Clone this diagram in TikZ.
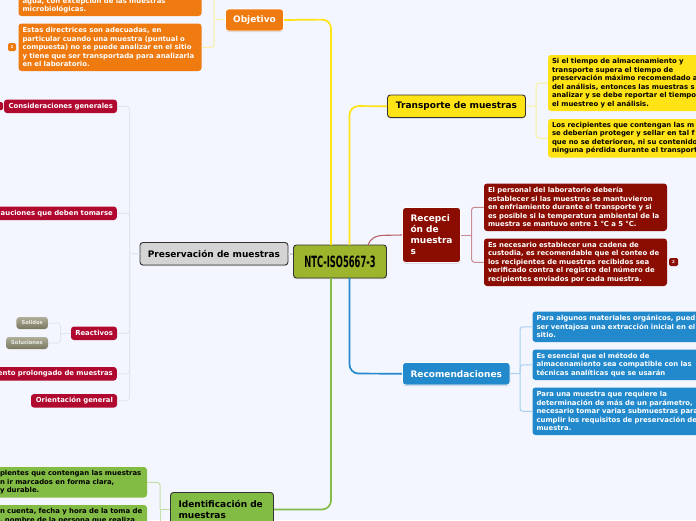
\documentclass[tikz,border=0pt]{standalone}
\usepackage{fontspec}
\setmainfont{DejaVu Sans}
\newfontfamily\condfont{DejaVu Sans Condensed}
\usetikzlibrary{shadows}
\definecolor{bgc}{HTML}{F3F6FF}
\definecolor{orangec}{HTML}{EF7A10}
\definecolor{yellowc}{HTML}{FFE314}
\definecolor{redc}{HTML}{8B0D02}
\definecolor{bluec}{HTML}{2289CC}
\definecolor{greenc}{HTML}{82BC44}
\definecolor{crimsonc}{HTML}{B0082F}
\definecolor{grayc}{HTML}{D4D4D4}
\definecolor{olivec}{HTML}{9DB52D}
\definecolor{taupec}{HTML}{8E8C6E}
\definecolor{ylight}{HTML}{FBF0A0}
\definecolor{rlight}{HTML}{C98A90}
\definecolor{blight}{HTML}{A8D0EE}
\definecolor{glight}{HTML}{C2DFA6}
\definecolor{clight}{HTML}{E1E5EF}
\tikzset{
  x=1pt,y=-1pt,
  mbox/.style={rounded corners=3pt,inner ysep=0pt,inner xsep=4pt,font=\bfseries\fontsize{6.9}{8.5}\selectfont,align=left,anchor=center},
  mainbox/.style={rounded corners=3pt,inner ysep=0pt,inner xsep=0pt,font=\bfseries\fontsize{9}{11}\selectfont,align=left,anchor=center},
  darkedge/.style={draw=black!80,line width=.9pt,drop shadow={shadow xshift=0pt,shadow yshift=-1pt,opacity=.3}},
  lightedge/.style={draw=white,line width=.8pt,drop shadow={shadow xshift=0pt,shadow yshift=-1pt,opacity=.3}},
  crimsonbox/.style={mbox,fill=crimsonc,text=white,minimum height=13.5pt,align=right},
  smallbox/.style={mbox,inner xsep=0pt,font=\bfseries\fontsize{5.2}{6}\selectfont,top color=taupec!70!white,bottom color=taupec!85!black,text=white!85!taupec,minimum height=12pt,align=center},
  branch/.style={line width=1.7pt,rounded corners=9pt},
  twig/.style={line width=1pt,rounded corners=3pt},
  badge/.style={rounded corners=1.5pt,inner sep=0pt,minimum width=9pt,minimum height=8pt,font=\bfseries\fontsize{4}{4}\selectfont,text=white},
}
% name, x1, y1, x2, y2, options, text
\newcommand{\mbx}[7]{%
  \pgfmathsetmacro{\bw}{#4-(#2)}\pgfmathsetmacro{\bh}{#5-(#3)}%
  \pgfmathsetmacro{\bx}{(#2+#4)/2}\pgfmathsetmacro{\by}{(#3+#5)/2}%
  \node[#6,minimum width=\bw pt,minimum height=\bh pt] (#1) at (\bx,\by) {#7};}
\newcommand{\tbox}[7]{%
  \pgfmathsetmacro{\bw}{#4-(#2)}\pgfmathsetmacro{\bh}{#5-(#3)}%
  \pgfmathsetmacro{\bx}{(#2+#4)/2}\pgfmathsetmacro{\by}{(#3+#5)/2}%
  \pgfmathsetmacro{\tw}{\bw-8}%
  \node[#6,text width=\tw pt,minimum height=\bh pt] (#1) at (\bx,\by) {#7};}
\newcommand{\mtbox}[7]{%
  \pgfmathsetmacro{\bw}{#4-(#2)}\pgfmathsetmacro{\bh}{#5-(#3)}%
  \pgfmathsetmacro{\bx}{(#2+#4)/2}\pgfmathsetmacro{\by}{(#3+#5)/2}%
  \pgfmathsetmacro{\tw}{\bw-16}%
  \node[#6,inner xsep=8pt,text width=\tw pt,minimum height=\bh pt] (#1) at (\bx,\by) {#7};}
\begin{document}
\begin{tikzpicture}
\useasboundingbox (0,0) rectangle (696,520);
\clip (0,0) rectangle (696,520);
\fill[bgc] (0,0) rectangle (696,520);

% nodes
\mbx{root}{293.5}{245}{386.5}{278}{rounded corners=3pt,fill=olivec,darkedge,inner sep=0pt}{\condfont\bfseries\fontsize{15.5}{15.5}\selectfont\scalebox{.6}[1]{NTC-ISO5667-3}}

\mbx{obj}{225.5}{9}{283.5}{31}{mainbox,fill=orangec,lightedge,text=white}{Objetivo}
\tbox{oa}{18.5}{-5}{201.5}{16}{mbox,fill=orangec,text=white}{agua, con excepción de las muestras\\microbiológicas.}
\tbox{ob}{18.5}{23.5}{201.5}{71}{mbox,fill=orangec,text=white}{Estas directrices son adecuadas, en\\particular cuando una muestra (puntual o\\compuesta) no se puede analizar en el sitio\\y tiene que ser transportada para analizarla\\en el laboratorio.}
\node[badge,fill=orangec,minimum width=8pt] (obm) at (12,47) {1};

\mbx{tr}{387.5}{95}{525.5}{117.5}{mainbox,fill=yellowc,darkedge}{Transporte de muestras}
\tbox{ta}{548}{55}{720}{111}{mbox,fill=yellowc}{Si el tiempo de almacenamiento y\\transporte supera el tiempo de\\preservación máximo recomendado a\\del análisis, entonces las muestras s\\analizar y se debe reportar el tiempo\\el muestreo y el análisis.}
\tbox{tb}{548}{119}{720}{157.5}{mbox,fill=yellowc}{Los recipientes que contengan las m\\se deberían proteger y sellar en tal f\\que no se deterioren, ni su contenido\\ninguna pérdida durante el transport}

\mtbox{re}{402.5}{207.5}{460.5}{262.5}{mainbox,fill=redc,lightedge,text=white}{Recepci\\ón de\\muestra\\s}
\tbox{ra}{484}{183.5}{667}{231}{mbox,fill=redc,text=white}{El personal del laboratorio debería\\establecer si las muestras se mantuvieron\\en enfriamiento durante el transporte y si\\es posible si la temperatura ambiental de la\\muestra se mantuvo entre 1 °C a 5 °C.}
\tbox{rb}{484}{238.5}{667}{286}{mbox,fill=redc,text=white}{Es necesario establecer una cadena de\\custodia, es recomendable que el conteo de\\los recipientes de muestras recibidos sea\\verificado contra el registro del número de\\recipientes enviados por cada muestra.}
\node[badge,fill=redc] (rbm) at (673.5,262) {2};

\mbx{rc}{402.5}{362.5}{510}{385}{mainbox,fill=bluec,lightedge,text=white}{Recomendaciones}
\tbox{ca}{532.5}{311.5}{720}{342}{mbox,fill=bluec,text=white}{Para algunos materiales orgánicos, pued\\ser ventajosa una extracción inicial en el\\sitio.}
\tbox{cb}{532.5}{349.5}{720}{380}{mbox,fill=bluec,text=white}{Es esencial que el método de\\almacenamiento sea compatible con las\\técnicas analíticas que se usarán}
\tbox{cc}{532.5}{387.5}{720}{435}{mbox,fill=bluec,text=white}{Para una muestra que requiere la\\determinación de más de un parámetro,\\necesario tomar varias submuestras para\\cumplir los requisitos de preservación de\\muestra.}

\mtbox{id}{170.5}{492.5}{273.5}{526.5}{mainbox,fill=greenc,darkedge}{Identificación de\\muestras}
\tbox{ia}{-4}{467}{147}{497.5}{mbox,fill=greenc}{plentes que contengan las muestras\\n ir marcados en forma clara,\\y durable.}
\tbox{ib}{-4}{505}{147}{527}{mbox,fill=greenc}{n cuenta, fecha y hora de la toma de\\, nombre de la persona que realiza}

\mbx{pr}{140}{242.5}{288}{265}{mainbox,fill=grayc,darkedge}{Preservación de muestras}
\node[crimsonbox,text width=105pt] (pa) at (60.5,106.3) {Consideraciones generales};
\node[badge,fill=crimsonc,minimum width=6pt] (pam) at (0,106) {};
\node[crimsonbox,text width=113pt,anchor=east] (pb) at (117,213.3) {auciones que deben tomarse};
\node[crimsonbox,text width=38pt] (pc) at (94,333.3) {Reactivos};
\node[crimsonbox,text width=125pt,anchor=east] (pd) at (117,373.8) {ento prolongado de muestras};
\node[crimsonbox,text width=78pt] (pe) at (74,400.8) {Orientación general};
\node[smallbox,minimum width=31.5pt] (sa) at (32.2,323) {Solidos};
\node[smallbox,minimum width=42pt] (sb) at (27,343) {Soluciones};

% main branches
\draw[branch,yellowc] (obj.east) -- (331,19.5) -- (331,245);
\draw[branch,yellowc] (tr.west) -- (349.5,106) -- (349.5,245);
\draw[line width=1.1pt,rlight!70!redc] (re.west) -- (385,235.3) .. controls (375,235.3) and (370,239) .. (368,245);
\draw[branch,bluec] (349.5,278) -- (349.5,373.5) -- (rc.west);
\draw[branch,greenc] (331,278) -- (331,509.5) -- (id.east);
\draw[line width=1.7pt,grayc] (pr.east) -- (root.west |- pr.east);

% twigs
\coordinate (o1) at (214,19.5);
\coordinate (o0) at (214,-8);
\draw[twig,ylight] (obj.west) -- (o1) -- (o0);
\draw[twig,ylight] (o1) |- (ob.east);
\coordinate (t1) at (536,106);
\draw[twig,ylight] (tr.east) -- (t1);
\draw[twig,ylight] (t1) |- (ta.west);
\draw[twig,ylight] (t1) |- (tb.west);
\coordinate (r1) at (471.5,235);
\draw[twig,rlight] (re.east) -- (r1);
\draw[twig,rlight] (r1) |- (ra.west);
\draw[twig,rlight] (r1) |- (rb.west);
\coordinate (c1) at (520,373.5);
\draw[twig,blight] (rc.east) -- (c1);
\draw[twig,blight] (c1) |- (ca.west);
\draw[twig,blight] (c1) |- (cb.west);
\draw[twig,blight] (c1) |- (cc.west);
\coordinate (i1) at (160,509.5);
\coordinate (i2) at (160,525);
\draw[twig,glight] (id.west) -- (i1);
\draw[twig,glight] (i1) |- (ia.east);
\draw[twig,glight] (i1) -- (i2);
\coordinate (p1) at (129.5,253.5);
\draw[twig,clight,line width=1.3pt] (pr.west) -- (p1);
\draw[twig,clight] (p1) |- (pa.east);
\draw[twig,clight] (p1) |- (pb.east);
\draw[twig,clight] (p1) |- (pc.east);
\draw[twig,clight] (p1) |- (pd.east);
\draw[twig,clight] (p1) |- (pe.east);
\coordinate (p2) at (60.5,333.3);
\draw[twig,clight] (pc.west) -- (p2);
\draw[twig,clight] (p2) |- (sa.east);
\draw[twig,clight] (p2) |- (sb.east);
\end{tikzpicture}
\end{document}
